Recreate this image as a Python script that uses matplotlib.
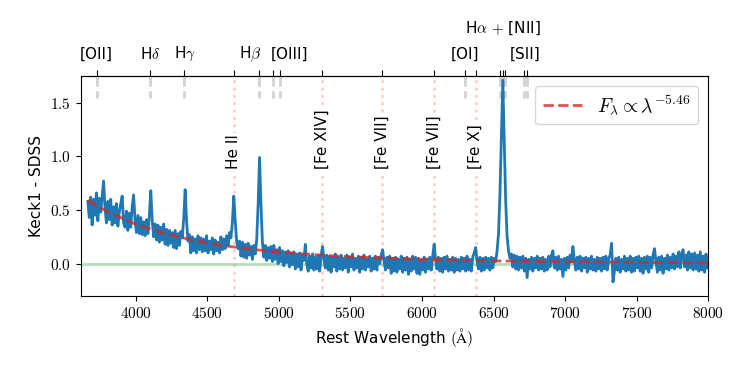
import numpy as np
import matplotlib
matplotlib.use('Agg')
import matplotlib.pyplot as plt
from matplotlib.ticker import FuncFormatter

plt.rcParams['font.family'] = ['DejaVu Sans']
plt.rcParams['mathtext.fontset'] = 'cm'
plt.rcParams['font.size'] = 11

# spectrum difference Keck1 - SDSS, sampled every 10 A from 3665 A
wave = np.arange(3665, 8000, 10)
flux = np.array([
    # 3665-3855
    0.58, 0.43, 0.62, 0.36, 0.60, 0.45, 0.66, 0.40, 0.61, 0.48,
    0.63, 0.77, 0.52, 0.38, 0.58, 0.41, 0.60, 0.36, 0.53, 0.38,
    # 3865-4055
    0.56, 0.35, 0.48, 0.56, 0.63, 0.38, 0.34, 0.49, 0.31, 0.47,
    0.34, 0.53, 0.64, 0.40, 0.29, 0.45, 0.28, 0.43, 0.27, 0.39,
    # 4065-4255
    0.26, 0.41, 0.28, 0.45, 0.68, 0.40, 0.25, 0.37, 0.22, 0.36,
    0.20, 0.34, 0.22, 0.37, 0.18, 0.32, 0.17, 0.31, 0.19, 0.29,
    # 4265-4455
    0.15, 0.31, 0.14, 0.28, 0.17, 0.30, 0.24, 0.42, 0.69, 0.40,
    0.21, 0.27, 0.10, 0.25, 0.12, 0.23, 0.10, 0.26, 0.13, 0.24,
    # 4465-4655
    0.11, 0.23, 0.12, 0.26, 0.10, 0.21, 0.13, 0.24, 0.09, 0.22,
    0.12, 0.20, 0.10, 0.25, 0.13, 0.23, 0.14, 0.26, 0.17, 0.29,
    # 4665-4855
    0.24, 0.38, 0.63, 0.40, 0.21, 0.14, 0.21, 0.07, 0.20, 0.06,
    0.18, 0.05, 0.19, 0.08, 0.16, 0.04, 0.17, 0.09, 0.22, 0.55,
    # 4865-5055
    0.99, 0.55, 0.20, 0.06, 0.17, 0.03, 0.15, 0.05, 0.16, 0.02,
    0.17, 0.04, 0.13, 0.00, 0.15, 0.02, 0.12, -0.02, 0.11, 0.01,
    # 5065-5255
    0.12, -0.03, 0.10, -0.01, 0.11, -0.05, 0.09, -0.03, 0.10, -0.06,
    0.08, 0.03, 0.18, 0.00, -0.07, 0.07, -0.04, 0.09, -0.06, 0.06,
    # 5265-5455
    -0.05, 0.08, -0.07, 0.07, 0.16, 0.04, -0.04, 0.08, -0.06, 0.07,
    -0.08, 0.06, -0.03, 0.09, -0.07, 0.06, -0.05, 0.08, -0.06, 0.05,
    # 5465-5655
    -0.04, 0.08, -0.08, 0.06, -0.03, 0.09, -0.06, 0.05, -0.04, 0.07,
    -0.08, 0.06, -0.05, 0.08, -0.06, 0.04, -0.03, 0.07, -0.07, 0.05,
    # 5665-5855
    -0.05, 0.07, -0.06, 0.06, 0.00, 0.08, 0.13, 0.02, -0.06, 0.06,
    -0.04, 0.07, -0.09, 0.05, -0.07, 0.06, -0.08, 0.04, -0.05, 0.07,
    # 5865-6055
    -0.08, 0.05, -0.06, 0.06, -0.10, 0.04, -0.07, 0.07, -0.05, 0.06,
    -0.09, 0.05, -0.10, 0.03, -0.06, 0.06, -0.08, 0.04, -0.05, 0.06,
    # 6065-6255
    -0.06, 0.07, 0.18, 0.04, -0.05, 0.06, -0.07, 0.05, -0.08, 0.06,
    -0.05, 0.07, -0.07, 0.04, -0.06, 0.06, -0.08, 0.05, -0.06, 0.04,
    # 6265-6455
    -0.07, 0.06, -0.05, 0.05, -0.07, 0.07, -0.06, 0.04, -0.07, 0.06,
    0.10, 0.15, 0.02, -0.05, 0.06, -0.07, 0.05, -0.06, 0.06, -0.04,
    # 6465-6655
    0.05, -0.06, 0.06, -0.04, 0.05, 0.02, 0.12, 0.28, 0.65, 1.20,
    1.71, 1.15, 0.58, 0.25, 0.12, 0.05, 0.09, -0.03, 0.08, -0.05,
    # 6665-6855
    0.07, -0.06, 0.06, -0.04, 0.07, -0.07, 0.05, -0.13, 0.04, -0.05,
    0.06, -0.07, 0.05, -0.04, 0.07, -0.06, 0.05, -0.05, 0.06, -0.07,
    # 6865-7055
    0.04, -0.06, 0.07, -0.03, 0.08, 0.12, -0.04, 0.06, -0.06, 0.07,
    -0.05, 0.04, -0.12, 0.05, -0.06, 0.06, -0.04, 0.08, 0.02, 0.16,
    # 7065-7255
    0.03, -0.06, 0.06, -0.05, 0.07, -0.07, 0.05, -0.04, 0.06, -0.08,
    0.05, -0.05, 0.07, -0.06, 0.04, -0.07, 0.06, -0.05, 0.05, -0.07,
    # 7265-7455
    0.06, -0.05, 0.07, -0.06, 0.05, 0.08, 0.19, -0.17, -0.07, 0.05,
    -0.06, 0.06, -0.08, 0.04, -0.05, 0.07, -0.07, 0.05, -0.06, 0.07,
    # 7465-7655
    -0.08, 0.05, -0.07, 0.06, -0.04, 0.07, -0.07, 0.05, -0.09, 0.06,
    -0.05, 0.07, -0.08, 0.06, -0.04, 0.08, 0.14, 0.02, -0.08, 0.06,
    # 7665-7855
    -0.06, 0.07, -0.09, 0.05, -0.05, 0.08, -0.06, 0.06, -0.04, 0.09,
    -0.05, 0.07, -0.03, 0.11, -0.04, 0.09, 0.13, -0.03, 0.08, -0.06,
    # 7865-7995
    0.11, -0.04, 0.09, -0.06, 0.10, -0.05, 0.08, -0.07, 0.11, -0.06,
    0.07, -0.08, 0.09, -0.04,
])

# power law fit
fit_wave = [3665, 3800, 4000, 4200, 4400, 4600, 4800, 5000, 5250, 5500,
            5750, 6000, 6500, 7000, 7500, 8000]
fit_flux = [0.59, 0.485, 0.367, 0.281, 0.218, 0.171, 0.135, 0.108, 0.083, 0.064,
            0.051, 0.040, 0.026, 0.017, 0.012, 0.008]

# narrow lines (grey, top) and coronal lines (red dotted)
narrow_waves = [3727, 4102, 4340, 4861, 4959, 5007, 6300, 6548, 6563, 6583, 6716, 6731]
coronal_waves = [4686, 5303, 5721, 6087, 6375]
coronal_names = ['He II', '[Fe XIV]', '[Fe VII]', '[Fe VII]', '[Fe X]']
top_labels = ['[OII]', r'H$\delta$', r'H$\gamma$', r'H$\beta$', '[OIII]', '[OI]', '[SII]']
top_label_x = [3727, 4102, 4340, 4800, 5077, 6300, 6724]
halpha_label = r'H$\alpha$ $+$ [NII]'

fig = plt.figure(figsize=(7.47, 3.74), dpi=100)
ax = fig.add_axes([0.108, 0.209, 0.84, 0.588])
xtr = ax.get_xaxis_transform()

ax.axhline(0, color='C2', alpha=0.35, lw=2, zorder=1)
for w in coronal_waves:
    ax.axvline(w, color='red', alpha=0.2, ls=':', lw=2, zorder=0)
for w in narrow_waves:
    ax.plot([w, w], [1.0, 0.9], transform=xtr, color='gray', alpha=0.35,
            ls='--', lw=2, zorder=0, clip_on=False)

ax.plot(wave, flux, color='C0', lw=2, zorder=2)
ax.plot(fit_wave, fit_flux, color='C3', ls='--', lw=2, alpha=0.8, zorder=3,
        label=r'$F_\lambda \propto \lambda^{-5.46}$')

for w, name in zip(coronal_waves, coronal_names):
    ax.text(w, 0.88, name, rotation=90, ha='center', va='bottom',
            bbox=dict(facecolor='white', edgecolor='none', pad=1), zorder=4)

ax.set_xlim(3615, 8000)
ax.set_ylim(-0.3, 1.75)
ax.set_yticks([0.0, 0.5, 1.0, 1.5])
ax.xaxis.set_major_formatter(FuncFormatter(lambda v, p: f'${v:.0f}$'))
ax.yaxis.set_major_formatter(FuncFormatter(lambda v, p: f'${v:.1f}$'))
ax.set_xlabel(r'Rest Wavelength $(\mathrm{\AA})$')
ax.set_ylabel('Keck1 - SDSS')

sec = ax.secondary_xaxis('top')
sec.set_xticks(narrow_waves + coronal_waves)
sec.set_xticklabels([])
sec.tick_params(length=4)

for x, lab in zip(top_label_x, top_labels):
    ax.text(x, 1.1, lab, ha='center', va='center', transform=xtr)
ax.text(6563, 1.215, halpha_label, ha='center', va='center', transform=xtr)

ax.legend(loc='upper right', fontsize=14)

fig.savefig('out.png', dpi=100)
